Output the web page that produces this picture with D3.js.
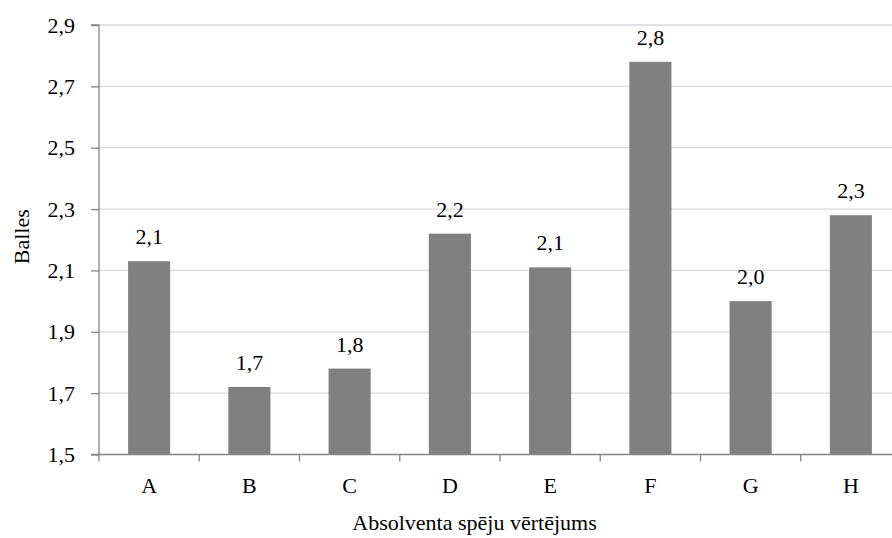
<!DOCTYPE html>
<html><head><meta charset="utf-8">
<script src="https://cdn.jsdelivr.net/npm/d3@7/dist/d3.min.js"></script>
<style>
body{margin:0;background:#fff;}
</style></head>
<body><svg id="c" width="892" height="538"></svg>
<script>
const categories = ["A","B","C","D","E","F","G","H"];
const values = [2.13, 1.72, 1.78, 2.22, 2.11, 2.78, 2.00, 2.28];
const yTicks = [1.5, 1.7, 1.9, 2.1, 2.3, 2.5, 2.7, 2.9];
const yTitle = "Balles";
const xTitle = "Absolventa spēju vērtējums";

const FONT = "'Liberation Serif'";
const svg = d3.select("#c");
const mLeft = 99, mRight = 901, mTop = 25, mBottom = 454.5;
const fmt = v => d3.format(".1f")(v).replace(".", ",");

const x = d3.scaleBand().domain(categories).range([mLeft, mRight]).paddingInner(0.58).paddingOuter(0.29);
const y = d3.scaleLinear().domain([1.5, 2.9]).range([mBottom, mTop]);

function styleText(sel) {
  sel.attr("font-family", null).style("font-family", FONT).style("font-size", "22px").style("fill", "#000");
}

// gridlines
svg.append("g").selectAll("line").data(yTicks.slice(1)).join("line")
  .attr("x1", mLeft).attr("x2", mRight)
  .attr("y1", d => y(d)).attr("y2", d => y(d))
  .attr("stroke", "#d9d9d9").attr("stroke-width", 1.3);

// bars
svg.append("g").selectAll("rect").data(values).join("rect")
  .attr("x", (d, i) => x(categories[i]))
  .attr("width", x.bandwidth())
  .attr("y", d => y(d))
  .attr("height", d => mBottom - y(d))
  .attr("fill", "#808080");

// value labels
svg.append("g").selectAll("text").data(values).join("text")
  .attr("x", (d, i) => x(categories[i]) + x.bandwidth() / 2)
  .attr("y", d => y(d) - 17)
  .attr("text-anchor", "middle")
  .text(d => fmt(d))
  .call(styleText);

// y axis
const yAxis = svg.append("g").attr("transform", `translate(${mLeft},0)`)
  .call(d3.axisLeft(y).tickValues(yTicks).tickSize(8).tickPadding(16).tickFormat(fmt));
yAxis.attr("font-family", null).attr("font-size", null);
yAxis.select(".domain").attr("stroke", "#868686").attr("stroke-width", 1.3).attr("d", `M-8,${mTop}H0V${mBottom}H-8`);
yAxis.selectAll(".tick line").attr("stroke", "#868686").attr("stroke-width", 1.3);
yAxis.selectAll(".tick text").call(styleText);

// x axis
const xTickPos = d3.scaleLinear().domain([0, categories.length]).range([mLeft, mRight]);
const xAxis = svg.append("g").attr("transform", `translate(0,${mBottom})`)
  .call(d3.axisBottom(x).tickSize(0).tickPadding(23));
xAxis.attr("font-family", null).attr("font-size", null);
xAxis.select(".domain").attr("stroke", "#868686").attr("stroke-width", 1.3).attr("d", `M${mLeft},0H${mRight}`);
xAxis.selectAll(".tick text").call(styleText);
svg.append("g").selectAll("line").data(d3.range(categories.length + 1)).join("line")
  .attr("x1", d => xTickPos(d)).attr("x2", d => xTickPos(d))
  .attr("y1", mBottom).attr("y2", mBottom + 7)
  .attr("stroke", "#868686").attr("stroke-width", 1.3);

// titles
svg.append("text").attr("transform", `translate(29,${(mTop + mBottom) / 2 - 3}) rotate(-90)`)
  .attr("text-anchor", "middle").text(yTitle).call(styleText);
svg.append("text").attr("x", 474.5).attr("y", 530)
  .attr("text-anchor", "middle").text(xTitle).call(styleText);
</script></body></html>
